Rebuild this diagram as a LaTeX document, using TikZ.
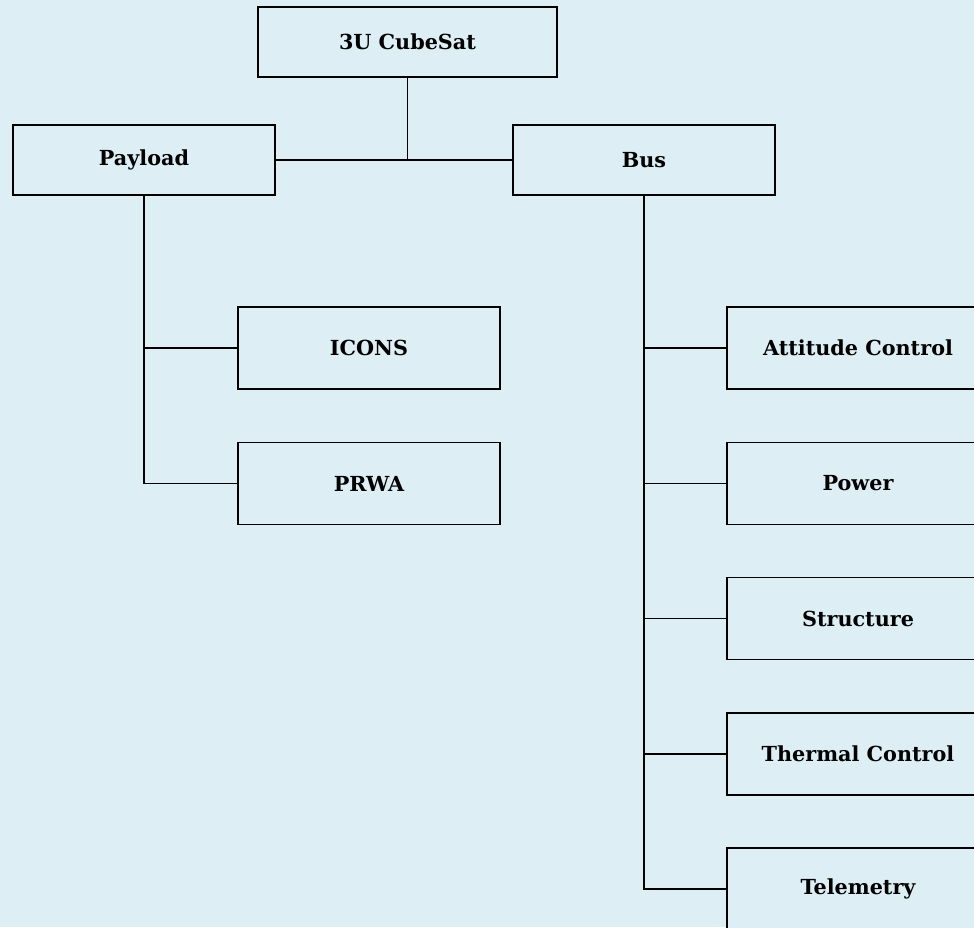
\documentclass[tikz,border=0pt]{standalone}
\usepackage{fontspec}
\setmainfont{DejaVu Serif}
\usepackage{tikz}

\definecolor{bgblue}{HTML}{DDEFF5}

\tikzset{
  part/.style={draw=black, line width=1.1pt, fill=bgblue, minimum width=5.24cm,
    minimum height=1.4cm, inner sep=0pt, font=\bfseries\fontsize{11.8}{14}\selectfont},
  sub/.style={part, minimum height=1.64cm},
  link/.style={line width=0.9pt}
}

\begin{document}
\begin{tikzpicture}[x=0.02cm,y=-0.02cm]
\useasboundingbox (0,0) rectangle (974,927);
\fill[bgblue] (0,0) rectangle (974,927);
\clip (0,0) rectangle (974,927);
\node[part, minimum width=5.98cm] (sat) at (407.5,42) {3U CubeSat};
\node[part] (payload) at (144,160) {Payload};
\node[part] (bus) at (644,160) {Bus};
\node[sub] (icons) at (369,348) {ICONS};
\node[sub] (prwa) at (369,483.5) {PRWA};
\node[sub] (att) at (858,348) {Attitude Control};
\node[sub] (pow) at (858,483.5) {Power};
\node[sub] (str) at (858,618.5) {Structure};
\node[sub] (therm) at (858,754) {Thermal Control};
\node[sub] (tele) at (858,889) {Telemetry};
\draw[link] (payload.east) -- (bus.west);
\draw[link] (sat.south) -- (sat.south |- payload.east);
\draw[link] (payload.south) |- (icons.west);
\draw[link] (payload.south) |- (prwa.west);
\draw[link] (bus.south) |- (att.west);
\draw[link] (bus.south) |- (pow.west);
\draw[link] (bus.south) |- (str.west);
\draw[link] (bus.south) |- (therm.west);
\draw[link] (bus.south) |- (tele.west);
\end{tikzpicture}
\end{document}
